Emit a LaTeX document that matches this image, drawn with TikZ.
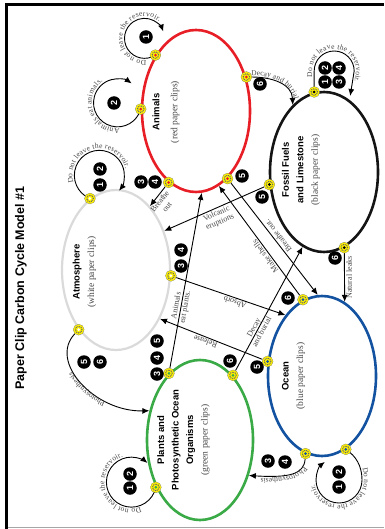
\documentclass[tikz,border=0pt]{standalone}
\usepackage{fontspec}
\setmainfont{Liberation Serif}
\setsansfont{Liberation Sans}
\usetikzlibrary{shapes.geometric}
\usetikzlibrary{arrows.meta}
\usetikzlibrary{decorations.text}
\usetikzlibrary{positioning}

\definecolor{animalred}{RGB}{232,30,38}
\definecolor{fossilblack}{RGB}{20,20,20}
\definecolor{airgray}{RGB}{218,218,218}
\definecolor{oceanblue}{RGB}{18,82,160}
\definecolor{plantgreen}{RGB}{58,170,70}
\definecolor{labelgray}{RGB}{70,70,70}

\pgfdeclarelayer{ovals}
\pgfdeclarelayer{links}
\pgfsetlayers{ovals,links,main}

\newcommand\resname[1]{{\sffamily\bfseries #1}}
\newcommand\clipnote[1]{{\color{labelgray}#1}}
\newcommand\loopfont{\fontsize{7.5}{9}\selectfont}

\tikzset{
  reservoir/.style={ellipse, minimum width=108pt, minimum height=160pt, inner sep=0pt, line width=2.6pt},
  restext/.style={rotate=90, align=center, inner sep=0pt, font=\fontsize{9.5}{14.5}\selectfont},
  pinmark/.style={circle, fill=yellow, draw=black!60, line width=0.2pt, minimum size=11pt, inner sep=0pt,
    path picture={\draw[line width=1.1pt, dash pattern=on 0.9pt off 0.9pt] (path picture bounding box.center) circle (3.3pt);
      \fill[#1] (path picture bounding box.center) circle (1.5pt);}},
  pinmark/.default=black,
  dienum/.style={circle, fill=black, text=white, inner sep=0pt, minimum size=13.5pt, rotate=90,
    font=\sffamily\bfseries\fontsize{9}{9}\selectfont},
  flow/.style={line width=0.9pt, -{Latex[length=7pt,width=6pt]}},
  flowtext/.style={font=\fontsize{8}{9}\selectfont, text=labelgray, align=center, inner sep=1.5pt},
  looptext/.style={decorate, decoration={text along path, text align=center, raise=2pt,
    text={|\loopfont\color{labelgray}|#1}}}
}

\begin{document}
\begin{tikzpicture}[x=1pt, y=1pt]
  \useasboundingbox (0,0) rectangle (384,-529);
  \draw[line width=2.8pt] (5,-4.7) -- (384,-4.7);
  \draw[line width=3pt] (6.5,-3.3) -- (6.5,-529);
  \draw[black!35, line width=0.8pt] (8,-527.8) -- (384,-527.8);

  \node[rotate=90, font=\sffamily\bfseries\fontsize{12.5}{15}\selectfont] (title) at (21,-288) {Paper Clip Carbon Cycle Model \#1};

  \begin{pgfonlayer}{ovals}
    \node[reservoir, draw=animalred, minimum height=162pt] (ani) at (196,-111) {};
    \node[reservoir, draw=fossilblack] (fos) at (324,-172) {};
    \node[reservoir, draw=airgray, line width=2.2pt] (atm) at (116,-270) {};
    \node[reservoir, draw=oceanblue] (oce) at (322,-376) {};
    \node[reservoir, draw=plantgreen, minimum width=106pt] (pla) at (200,-440) {};
  \end{pgfonlayer}

  \node[restext] (ani name) at (166,-112) {\resname{Animals}\\[3.5pt]\clipnote{(red paper clips)}};
  \node[restext] (fos name) at (301,-170) {\resname{Fossil Fuels}\\\resname{and Limestone}\\\clipnote{(black paper clips)}};
  \node[restext] (atm name) at (84.5,-272) {\resname{Atmosphere}\\\clipnote{(white paper clips)}};
  \node[restext] (oce name) at (293.5,-376) {\resname{Ocean}\\\clipnote{(blue paper clips)}};
  \node[restext] (pla name) at (183.5,-440) {\resname{Plants and}\\\resname{Photosynthetic Ocean}\\\resname{Organisms}\\\clipnote{(green paper clips)}};

  \node[pinmark=animalred] (ani loop) at (ani.126) {};
  \node[pinmark=animalred] (ani eat) at (ani.178) {};
  \node[pinmark=animalred] (ani decay) at (ani.34.5) {};
  \node[pinmark=animalred] (ani breathe) at (ani.249.4) {};
  \node[pinmark=animalred] (ani exhale) at (ani.-65) {};
  \node[pinmark] (fos loop) at (fos.97) {};
  \node[pinmark] (fos volcanic) at (fos.193.5) {};
  \node[pinmark] (fos leaks) at (fos.-75) {};
  \node[pinmark=white] (atm loop) at (atm.110) {};
  \node[pinmark=white] (atm absorb) at (atm.-6.6) {};
  \node[pinmark=white] (atm photo) at (atm.-122) {};
  \node[pinmark=oceanblue] (oce shells) at (oce.104) {};
  \node[pinmark=oceanblue] (oce release) at (oce.165) {};
  \node[pinmark=oceanblue] (oce photo) at (oce.258) {};
  \node[pinmark=oceanblue] (oce loop) at (oce.-72) {};
  \node[pinmark=plantgreen] (pla eaten) at (pla.115) {};
  \node[pinmark=plantgreen] (pla decay) at (pla.63) {};
  \node[pinmark=plantgreen] (pla loop) at (pla.227) {};

  \foreach \n/\x/\y [count=\i] in {1/146/37, 2/114/103, 3/141/182, 4/155/182, 5/242/176, 6/260/84,
      1/100/185, 2/100/169, 3/181/266, 4/181/250, 5/84/362, 6/100/362,
      1/325/82, 2/325/68, 3/339/82, 4/339/68, 5/262/197, 6/335/258,
      6/288/298, 5/257/367, 3/268/461, 4/285/462, 1/339/487, 2/339/472,
      3/157/374, 4/157/358, 5/157/341, 6/230/361, 1/130/488, 2/130/474}
    \node[dienum] (die\i) at (\x,-\y) {\n};

  \begin{pgfonlayer}{links}
    \draw[flow] (ani loop.center) arc[start angle=-57, end angle=-340, radius=20];
    \path[looptext={Do not leave the reservoir.}] (ani loop.center) arc[start angle=-57, end angle=-340, radius=20];
    \draw[flow] (ani eat.center) arc[start angle=-15, end angle=-306, radius=24];
    \path[looptext={Animals eat animals.}] (ani eat.center) arc[start angle=-15, end angle=-306, radius=24];
    \draw[flow] (atm loop.center) arc[start angle=-112, end angle=-398, radius=25];
    \path[looptext={Do not leave the reservoir.}] (atm loop.center) arc[start angle=-112, end angle=-398, radius=25];
    \draw[flow] (fos loop.center) -- ++(0,21) arc[start angle=180, end angle=0, radius=20] -- ++(-4,-25);
    \path[looptext={Do not leave the reservoir.}] (fos loop.center) -- ++(0,21) arc[start angle=180, end angle=0, radius=20] -- ++(-4,-25);
    \draw[flow] (oce loop.center) .. controls (356,-456) and (362,-466) .. (362,-480) arc[start angle=0, end angle=-232, radius=23];
    \path[looptext={Do not leave the reservoir.}] (oce loop.center) .. controls (356,-456) and (362,-466) .. (362,-480) arc[start angle=0, end angle=-232, radius=23];
    \draw[flow] (pla loop.center) arc[start angle=-12, end angle=-310, radius=25];
    \path[looptext={Do not leave the reservoir.}] (pla loop.center) arc[start angle=-12, end angle=-310, radius=25];

    \draw[flow] (ani decay) .. controls (272,-77) and (292,-84) .. (fos.115);
    \path[looptext={Decay and burial}] (ani decay.center) .. controls (272,-77) and (292,-84) .. (fos.115);
    \draw[flow] (atm photo) .. controls (48,-362) and (95,-412) .. (pla.150);
    \path[looptext={Photosynthesis}] (pla.150) .. controls (95,-412) and (48,-362) .. (atm photo.center);
    \draw[flow] (oce photo) .. controls (304,-474) and (290,-478) .. (pla.-36);
    \path[looptext={Photosynthesis}] (oce photo.center) .. controls (304,-474) and (290,-478) .. (pla.-36);

    \draw[flow] (ani breathe) -- (atm.62) node[flowtext, pos=.6, rotate=51.8, anchor=north] (breathe air) {Breathe\\out};
    \draw[flow] (ani exhale) -- (oce.93) node[flowtext, pos=.5, rotate=127.4, anchor=north] (breathe sea) {Breathe out.};
    \draw[flow] (fos volcanic) -- (atm.39) node[flowtext, pos=.5, rotate=23.6, anchor=north] (volcanic) {Volcanic\\eruptions};
    \draw[flow] (fos leaks) -- (oce.73) node[flowtext, pos=.5, rotate=90, anchor=north] (leaks) {Natural leaks};
    \draw[flow] (oce shells) -- (ani.-73) node[flowtext, pos=.38, rotate=126.1, anchor=south] (shells) {Make shells};
    \draw[flow] (oce release) -- (atm.-48.5) node[flowtext, pos=.54, rotate=158.5, anchor=south] (release) {Release};
    \draw[flow] (atm absorb) -- (oce.121) node[flowtext, pos=.55, rotate=161, anchor=south] (absorb) {Absorb};
    \draw[flow] (pla eaten) -- (ani.-86) node[flowtext, pos=.35, rotate=80] (eat plants) {Animals\\eat plants.};
    \draw[flow] (pla decay) -- (fos.254) node[flowtext, pos=.33, rotate=61.7] (burial) {Decay\\and burial};
  \end{pgfonlayer}
\end{tikzpicture}
\end{document}
